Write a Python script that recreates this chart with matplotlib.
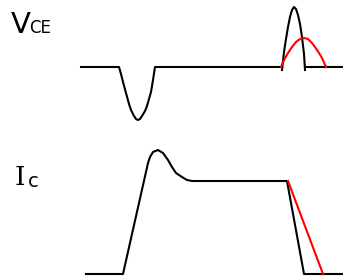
"""Switching waveforms sketch: VCE and Ic, with the slow-turn-off case in red."""

import matplotlib
matplotlib.use("Agg")
import matplotlib.pyplot as plt

# points, in pixel units (x right, y down)
vce_x = [81, 119, 121, 123, 126, 129, 131, 134, 136, 138, 140, 142, 145, 147, 149, 151, 153, 155, 282]
vce_y = [67, 67, 74, 82, 93, 104, 110, 116, 119, 120, 119, 116, 111, 106, 99, 92, 80, 67, 67]
spike_x = [282, 284, 286, 288, 290, 292, 294, 296, 298, 300, 302, 304, 305]
spike_y = [70, 52, 39, 27, 17, 10, 7, 9, 15, 24, 37, 54, 70]
vce_tail_x = [306, 343]
vce_tail_y = [67, 67]
vce_red_x = [281, 284, 288, 292, 296, 300, 304, 308, 312, 315, 319, 322, 326]
vce_red_y = [67, 60, 53, 47, 42, 39, 38, 39, 43, 47, 53, 58, 67]

ic_x = [86, 123, 148, 150, 153, 158, 163, 168, 172, 176, 182, 187, 192, 202, 287, 304, 343]
ic_y = [274, 274, 163, 157, 152, 150, 153, 160, 167, 173, 177, 180, 181, 181, 181, 274, 274]
ic_red_x = [288, 323]
ic_red_y = [181, 274]

fig = plt.figure(figsize=(3.43, 2.78), dpi=100)
ax = fig.add_axes([0, 0, 1, 1])
ax.set_xlim(0, 343)
ax.set_ylim(278, 0)
ax.axis("off")

lw = 1.5
ax.plot(vce_x, vce_y, color="black", lw=lw)
ax.plot(spike_x, spike_y, color="black", lw=lw)
ax.plot(vce_tail_x, vce_tail_y, color="black", lw=lw)
ax.plot(vce_red_x, vce_red_y, color="red", lw=lw)
ax.plot(ic_x, ic_y, color="black", lw=lw)
ax.plot(ic_red_x, ic_red_y, color="red", lw=lw)

# labels
ax.text(11, 33, "V", fontsize=21, family="DejaVu Sans", va="baseline")
ax.text(29, 33, "CE", fontsize=12, family="DejaVu Sans", va="baseline")
ax.text(15, 185, "I", fontsize=19, family="DejaVu Serif", va="baseline")
ax.text(28, 187, "c", fontsize=14, family="DejaVu Sans", va="baseline")

fig.savefig("out.png", dpi=100)
